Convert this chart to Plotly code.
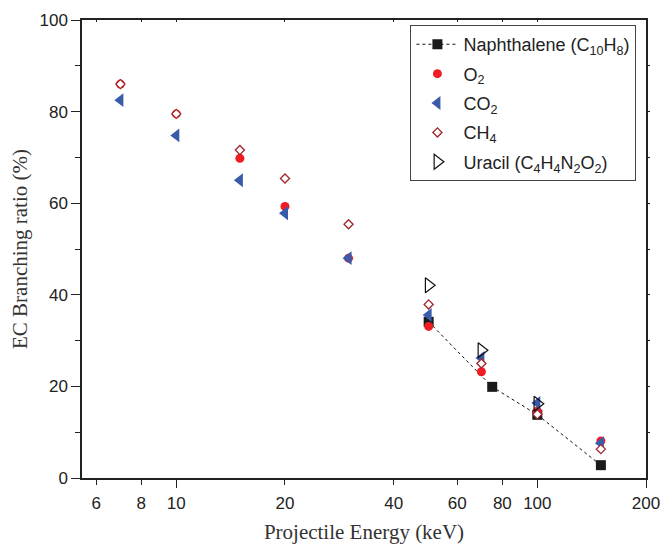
import math
import plotly.graph_objects as go

# Data
naph_x = [50, 75, 100, 150]
naph_y = [34.1, 19.9, 13.8, 2.8]

o2_x = [7, 10, 15, 20, 30, 50, 70, 100, 150]
o2_y = [86.0, 79.5, 69.8, 59.3, 48.0, 33.1, 23.2, 14.6, 8.1]

co2_x = [7, 10, 15, 20, 30, 50, 70, 100, 150]
co2_y = [82.5, 74.8, 65.0, 57.8, 48.0, 35.6, 26.2, 16.4, 7.6]

ch4_x = [7, 10, 15, 20, 30, 50, 70, 100, 150]
ch4_y = [86.0, 79.5, 71.6, 65.4, 55.4, 37.9, 25.0, 13.9, 6.3]

ura_x = [50, 70, 100]
ura_y = [42.1, 27.9, 16.2]

x_ticks = [6, 8, 10, 20, 40, 60, 80, 100, 200]
x_long_ticks = [10, 100, 200]
y_ticks = [0, 20, 40, 60, 80, 100]
y_minor_ticks = [10, 30, 50, 70, 90]

fig = go.Figure()
fig.add_trace(go.Scatter(x=naph_x, y=naph_y, mode="lines+markers",
                         name="Naphthalene (C<sub>10</sub>H<sub>8</sub>)",
                         line=dict(color="#111", width=1, dash="3px,3px"),
                         marker=dict(symbol="square", size=10, color="#1a1a1a"),
                         legendgroup="a"))
fig.add_trace(go.Scatter(x=o2_x, y=o2_y, mode="markers", name="O<sub>2</sub>",
                         marker=dict(symbol="circle", size=9, color="#EE1D23"),
                         legendgroup="b"))
fig.add_trace(go.Scatter(x=co2_x, y=co2_y, mode="markers", name="CO<sub>2</sub>",
                         marker=dict(symbol="triangle-left", size=12, color="#3A5BAA"),
                         legendgroup="c"))
fig.add_trace(go.Scatter(x=ch4_x, y=ch4_y, mode="markers", name="CH<sub>4</sub>",
                         marker=dict(symbol="diamond", size=7, color="white",
                                     line=dict(color="#A0262A", width=1.3)),
                         legendgroup="d"))
fig.add_trace(go.Scatter(x=ura_x, y=ura_y, mode="markers",
                         name="Uracil (C<sub>4</sub>H<sub>4</sub>N<sub>2</sub>O<sub>2</sub>)",
                         marker=dict(symbol="triangle-right", size=13, color="rgba(255,255,255,0)",
                                     line=dict(color="#111", width=1.2)),
                         legendgroup="e"))

xr = [math.log10(5.48), math.log10(200)]
yr = [0, 100]

fig.update_layout(
    width=663, height=544,
    margin=dict(l=82, r=17, t=20, b=66, autoexpand=False),
    paper_bgcolor="white", plot_bgcolor="white",
    font=dict(family="Liberation Sans, Arial", color="#222", size=17),
    showlegend=True,
    legend=dict(x=0.983, y=0.989, xanchor="right", yanchor="top",
                bordercolor="#444", borderwidth=1, bgcolor="white",
                font=dict(size=18, family="Liberation Sans, Arial", color="#222"),
                tracegroupgap=3, itemwidth=42),
    xaxis=dict(type="log", range=xr, tickmode="array", tickvals=x_ticks,
               ticktext=[str(v) for v in x_ticks], automargin=False,
               ticks="outside", ticklen=5, tickwidth=1.2, tickcolor="#222",
               ticklabelstandoff=4,
               showline=True, linecolor="#222", linewidth=1.5, mirror=True,
               showgrid=False, zeroline=False,
               tickfont=dict(size=17, color="#222"),
               title=dict(text="Projectile Energy (keV)",
                          font=dict(family="Liberation Serif, Times New Roman", size=21, color="#333"),
                          standoff=12)),
    yaxis=dict(range=yr, tickmode="array", tickvals=y_ticks, automargin=False,
               ticks="outside", ticklen=9, tickwidth=1.2, tickcolor="#222",
               minor=dict(tickmode="array", tickvals=y_minor_ticks,
                          ticks="outside", ticklen=5, tickcolor="#222", tickwidth=1.2),
               showline=True, linecolor="#222", linewidth=1.5, mirror=True,
               showgrid=False, zeroline=False,
               tickfont=dict(size=17, color="#222"),
               title=dict(text="EC Branching ratio (%)",
                          font=dict(family="Liberation Serif, Times New Roman", size=21, color="#333"),
                          standoff=6)),
    xaxis2=dict(type="log", range=xr, overlaying="x", side="top", tickmode="array",
                tickvals=x_ticks, showticklabels=False, ticks="inside", ticklen=2,
                automargin=False,
                tickcolor="#222", showgrid=False, zeroline=False, showline=False),
    xaxis3=dict(type="log", range=xr, overlaying="x", side="bottom", tickmode="array",
                tickvals=x_long_ticks, showticklabels=False, ticks="outside", ticklen=9,
                tickwidth=1.2, automargin=False,
                tickcolor="#222", showgrid=False, zeroline=False, showline=False),
    yaxis2=dict(range=yr, overlaying="y", side="right", tickmode="array",
                tickvals=[10, 20, 30, 40, 50, 60, 70, 80, 90], showticklabels=False,
                automargin=False,
                ticks="outside", ticklen=3, tickcolor="#222", showgrid=False,
                zeroline=False, showline=False),
)
# invisible traces to activate the secondary axes
fig.add_trace(go.Scatter(x=[10], y=[50], xaxis="x2", yaxis="y2", mode="markers",
                         marker=dict(opacity=0), showlegend=False, hoverinfo="skip"))
fig.add_trace(go.Scatter(x=[10], y=[50], xaxis="x3", yaxis="y", mode="markers",
                         marker=dict(opacity=0), showlegend=False, hoverinfo="skip"))

fig.write_html("out.html", config={"displayModeBar": False},
               post_script="document.body.style.margin='0';document.body.style.overflow='hidden';")
